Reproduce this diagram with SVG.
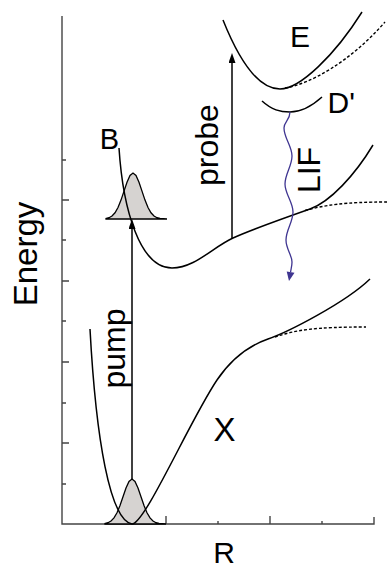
<svg xmlns="http://www.w3.org/2000/svg" width="387" height="571" viewBox="0 0 387 571">
<style>
.ax{stroke:#444;stroke-width:1.4;fill:none}
.c{stroke:#000;stroke-width:1.5;fill:none}
.d{stroke:#000;stroke-width:1.4;fill:none;stroke-dasharray:3 2}
.g{fill:#d6d3d1;stroke:#000;stroke-width:1.3}
.t{font-family:"Liberation Sans",Arial,sans-serif;fill:#000}
</style>
<defs>
<marker id="ah" markerWidth="10" markerHeight="8" refX="0" refY="3.5" orient="auto" markerUnits="userSpaceOnUse">
<path d="M0,0 L10,3.5 L0,7 z" fill="#000"/>
</marker>
</defs>
<rect width="387" height="571" fill="#fff"/>
<g id="axes">
<path class="ax" d="M62,16 V524 H374 V517"/>
<path class="ax" d="M62,484 h4 M62,443 h7 M62,403 h4 M62,362 h7 M62,321 h4 M62,281 h7 M62,240 h4 M62,200 h7 M62,160 h4"/>
<path class="ax" d="M114,524 v-3 M166,524 v-8 M218,524 v-3 M270,524 v-8 M322,524 v-3"/>
</g>
<g id="wavepackets">
<path class="g" d="M106,219 L106,218.5 L109,217.7 L112,216 L115,212.8 L118,207.5 L121,200.1 L124,191.1 L127,182.2 L130,175.5 L133,173 L136,175.5 L139,182.2 L142,191.1 L145,200.1 L148,207.5 L151,212.8 L154,216 L157,217.7 L160,218.5 L167,219 Z"/>
<path class="g" d="M105,524 L105,523.5 L108,522.7 L111,521 L114,517.9 L117,512.8 L120,505.5 L123,496.7 L126,488 L129,481.4 L132,479 L135,481.4 L138,488 L141,496.7 L144,505.5 L147,512.8 L150,517.9 L153,521 L156,522.7 L159,523.5 L166,524 Z"/>
</g>
<g id="curves">
<path id="X" class="c" d="M90,329 C96,440 110,520 132,524 C145,524 190,420 217,380 C232,358 248,346 268,339 C288,332 345,303 370,279"/>
<path class="d" d="M275,337 C295,330 315,327 366,327"/>
<path id="Bstate" class="c" d="M119,148 C123,210 140,268 172,268 C195,268 213,247 233,238 C253,229 290,216 310,209 C330,202 355,175 373,145"/>
<path class="d" d="M305,210.5 C325,205 345,202 387,202"/>
<path id="Estate" class="c" d="M223,20 C235,50 255,89 280,89 C300,89 335,55 362,12"/>
<path class="d" d="M285,88 C310,84 350,62 385,22"/>
<path id="Dstate" class="c" d="M262,101 C272,110 280,112 290,112 C302,112 312,106 322,97"/>
</g>
<g id="connectors">
<line class="c" x1="132" y1="479" x2="132" y2="229" marker-end="url(#ah)"/>
<line class="c" x1="232" y1="238" x2="232" y2="63" marker-end="url(#ah)"/>
<path d="M290,112 C290,120 284,122 284,128 C284,138 292,146 292,156 C292,166 285,174 285,184 C285,194 293,202 293,212 C293,222 286,230 286,240 C286,249 292,255 292,262 C292,266 291,269 290.6,272" fill="none" stroke="#3f3591" stroke-width="1.3"/>
<polygon points="289,281 286.7,271.4 294.5,272.8" fill="#3f3591"/>
</g>
<g id="labels">
<text class="t" font-size="33" text-anchor="middle" transform="translate(37,254) rotate(-90)">Energy</text>
<text class="t" font-size="30" text-anchor="middle" x="224" y="563">R</text>
<text class="t" font-size="33" text-anchor="middle" x="224.5" y="441">X</text>
<text class="t" font-size="29" text-anchor="middle" x="109.5" y="149">B</text>
<text class="t" font-size="30" text-anchor="middle" x="300" y="47">E</text>
<text class="t" font-size="30" x="327.5" y="113">D'</text>
<text class="t" font-size="32" text-anchor="middle" transform="translate(218,145) rotate(-90)">probe</text>
<text class="t" font-size="32" text-anchor="middle" transform="translate(320,170) rotate(-90)">LIF</text>
<text class="t" font-size="32" text-anchor="middle" transform="translate(125,348.5) rotate(-90)">pump</text>
</g>
</svg>
